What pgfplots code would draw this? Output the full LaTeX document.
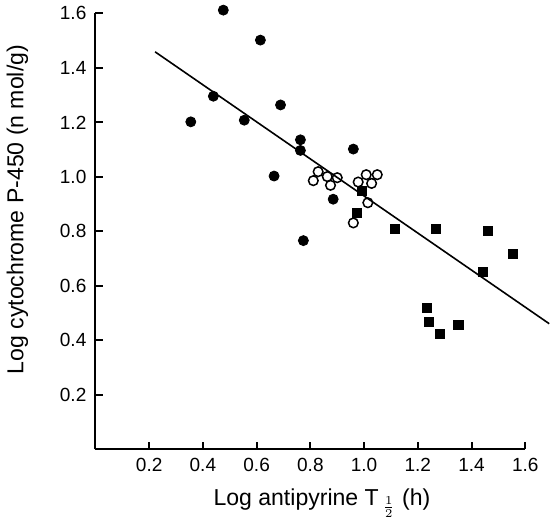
\documentclass[border=0pt]{standalone}
\usepackage{fontspec}
\setmainfont{Liberation Sans}
\usepackage{pgfplots}
\pgfplotsset{compat=1.18}

% filled circles
\pgfplotstableread{
x y
0.476 1.612
0.614 1.502
0.439 1.296
0.355 1.202
0.554 1.208
0.689 1.264
0.665 1.003
0.763 1.136
0.763 1.097
0.960 1.102
0.885 0.918
0.774 0.766
}\filledcirc
% open circles
\pgfplotstableread{
x y
0.829 1.019
0.811 0.986
0.863 1.001
0.875 0.969
0.900 0.997
0.978 0.981
1.008 1.008
1.028 0.976
1.049 1.008
1.014 0.905
0.960 0.831
}\opencirc
% filled squares
\pgfplotstableread{
x y
0.993 0.949
0.975 0.869
1.115 0.810
1.269 0.810
1.460 0.803
1.553 0.719
1.441 0.651
1.232 0.518
1.242 0.467
1.351 0.455
1.283 0.424
}\squares

\begin{document}
\begin{tikzpicture}
\begin{axis}[
    scale only axis,
    width=214.5pt, height=217.5pt,
    xmin=0, xmax=1.6, ymin=0, ymax=1.6,
    axis x line*=bottom, axis y line*=left,
    axis line style={line width=1pt,-},
    xtick={0.2,0.4,0.6,0.8,1.0,1.2,1.4,1.6},
    ytick={0.2,0.4,0.6,0.8,1.0,1.2,1.4,1.6},
    tick align=inside,
    major tick length=3.8pt,
    tick style={line width=1pt,black},
    /pgf/number format/.cd, fixed, fixed zerofill, precision=1, assume math mode=true,
    /pgfplots/.cd,
    tick label style={font=\fontsize{9.5}{11}\selectfont},
    xticklabel style={yshift=-1pt},
    yticklabel style={xshift=-1pt},
    label style={font=\fontsize{11.5}{13}\selectfont},
    xlabel={Log antipyrine T\,$_{\frac{1}{2}}$ (h)},
    ylabel={Log cytochrome P-450 (n mol/g)},
    xlabel style={at={(axis description cs:0.527,-0.074)}, anchor=north},
    ylabel style={at={(axis description cs:-0.14,0.55)}, anchor=south, rotate=0},
    clip=false,
]
\addplot[black, line width=0.8pt] coordinates {(0.222,1.459) (1.689,0.461)};
\addplot[only marks, mark=*, mark size=2.5pt, black] table {\filledcirc};
\addplot[only marks, mark=o, mark size=2.4pt, black, mark options={line width=0.75pt, fill=white}] table {\opencirc};
\addplot[only marks, mark=square*, mark size=2.25pt, black] table {\squares};
\end{axis}
\end{tikzpicture}
\end{document}
